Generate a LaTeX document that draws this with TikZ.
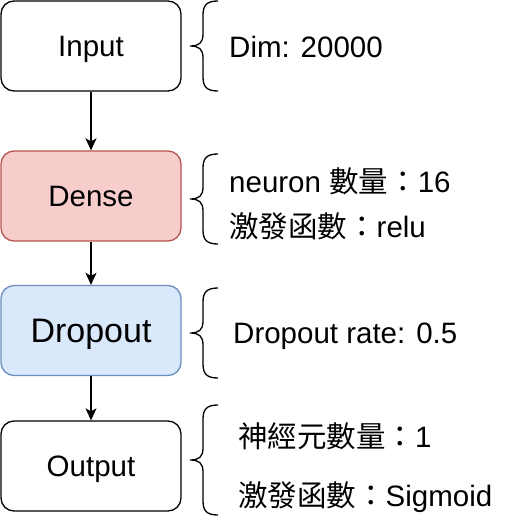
\documentclass[tikz,border=0pt]{standalone}
\usepackage{fontspec}
\setmainfont{Liberation Sans}
\newfontfamily\cjk{Noto Sans CJK TC}
\usetikzlibrary{arrows.meta}
\definecolor{redfill}{HTML}{F8CECC}
\definecolor{redline}{HTML}{B85450}
\definecolor{bluefill}{HTML}{DAE8FC}
\definecolor{blueline}{HTML}{6C8EBF}
\newcommand\crlybrace[2]{%
  \pgfmathsetmacro\bt{-#1}\pgfmathsetmacro\bb{-#2}\pgfmathsetmacro\bm{-(#1+#2)/2}%
  \draw[bracesty] (218,\bt) .. controls (207,\bt) and (203,\bt-4) .. (203,\bt-14)
    -- (203,\bm+12) .. controls (203,\bm+3) and (199,\bm) .. (190,\bm)
    .. controls (199,\bm) and (203,\bm-3) .. (203,\bm-12)
    -- (203,\bb+14) .. controls (203,\bb+4) and (207,\bb) .. (218,\bb);}
\begin{document}
\begin{tikzpicture}[x=1pt,y=1pt,
  layerbox/.style={draw, rounded corners=13pt, line width=1.3pt, minimum width=180pt, minimum height=90pt,
    inner sep=0pt, font=\fontsize{29.5}{35}\selectfont, text height=21pt, text depth=0pt},
  info/.style={anchor=base west, inner sep=0pt, font=\fontsize{29.5}{35}\selectfont},
  bracesty/.style={line width=1.3pt},
  flow/.style={line width=1.3pt, -{Stealth[length=12pt,width=11pt,inset=3pt]}}]
\useasboundingbox (0,0) rectangle (521,-527);
\node[layerbox] (in) at (91,-46) {Input};
\node[layerbox, fill=redfill, draw=redline] (dense) at (91,-196) {Dense};
\node[layerbox, fill=bluefill, draw=blueline, font=\fontsize{34}{40}\selectfont, text height=24.4pt] (drop) at (91,-330.5) {Dropout};
\node[layerbox] (out) at (91,-466) {Output};
\draw[flow] (in) -- (dense);
\draw[flow] (dense) -- (drop);
\draw[flow] (drop) -- (out);
\crlybrace{1}{91}
\crlybrace{154}{244}
\crlybrace{288}{378}
\crlybrace{405}{515}
\node[info] (t1) at (229,-57) {Dim: 20000};
\node[info] (t2) at (229,-192) {neuron {\cjk 數量：}16};
\node[info] (t3) at (229,-237) {{\cjk 激發函數：}relu};
\node[info] (t4) at (233,-343) {Dropout rate: 0.5};
\node[info] (t5) at (238,-447) {{\cjk 神經元數量：}1};
\node[info] (t6) at (238,-506) {{\cjk 激發函數：}Sigmoid};
\end{tikzpicture}
\end{document}
